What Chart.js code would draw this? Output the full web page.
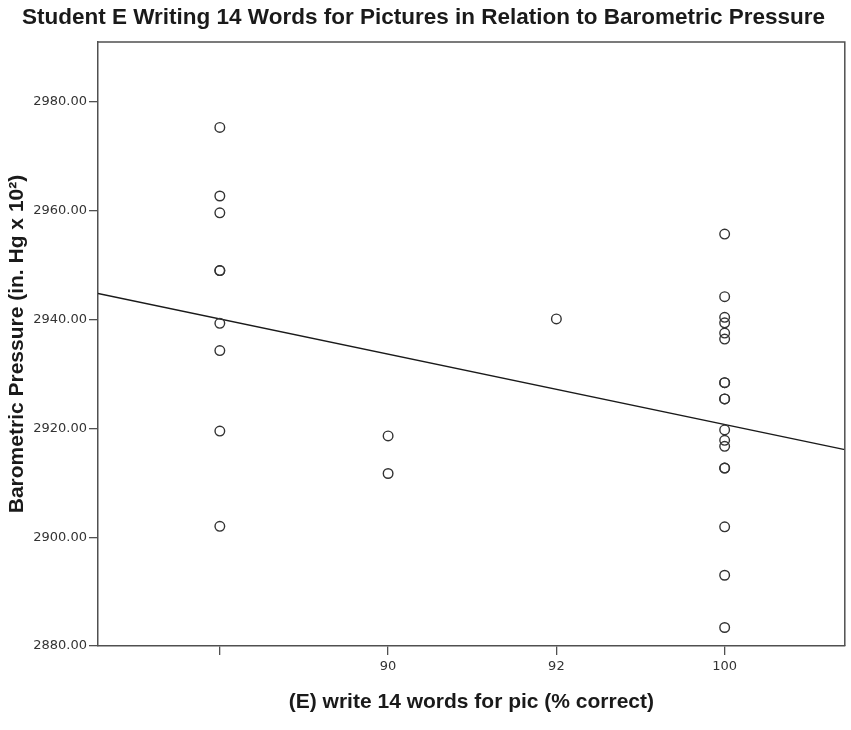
<!DOCTYPE html>
<html>
<head>
<meta charset="utf-8">
<script src="https://cdn.jsdelivr.net/npm/chart.js@4.4.1/dist/chart.umd.min.js"></script>
<style>
  html, body { margin: 0; padding: 0; background: #ffffff; }
  #wrap { width: 851px; height: 730px; }
</style>
</head>
<body>
<div id="wrap"><canvas id="chart" width="851" height="730"></canvas></div>
<script>
// Score categories along the x axis (first category carries no label)
const xTickLabels = ['', '90', '92', '100'];
const xPositions = [0, 1, 2, 3];

// Barometric pressure readings (in. Hg x 10^2) for each score category
const pressureBlank = [2975.3, 2962.7, 2959.6, 2949.0, 2949.0, 2939.3, 2934.3, 2919.5, 2902.0];
const pressure90 = [2918.6, 2911.7];
const pressure92 = [2940.1];
const pressure100 = [2955.7, 2944.2, 2940.4, 2939.4, 2937.5, 2936.4, 2928.4, 2928.4, 2925.4, 2925.4,
                     2919.7, 2917.8, 2916.7, 2912.7, 2912.7, 2901.9, 2893.0, 2883.4];

// Linear fit: value at category 0 and change per category step
const fitIntercept = 2940.1;
const fitSlope = -6.47;

// Axis extents
const xMin = -0.724, xMax = 3.714;
const yMin = 2880, yMax = 2991, yStep = 20;

const groups = [pressureBlank, pressure90, pressure92, pressure100];
const points = [];
groups.forEach((vals, i) => vals.forEach(v => points.push({ x: xPositions[i], y: v })));

const fitPoints = [xMin, xMax].map(x => ({ x: x, y: fitIntercept + fitSlope * x }));

const AXIS_COLOR = '#505050';
const TITLE_FONT = 'Liberation Sans, Arial, sans-serif';
const TICK_FONT = 'DejaVu Sans, sans-serif';

// Draws the top and right edges of the plot frame
const frame = {
  id: 'frame',
  afterDraw(chart) {
    const { ctx, chartArea: a } = chart;
    ctx.save();
    ctx.strokeStyle = AXIS_COLOR;
    ctx.lineWidth = 1.5;
    ctx.beginPath();
    ctx.moveTo(a.left, a.top);
    ctx.lineTo(a.right, a.top);
    ctx.lineTo(a.right, a.bottom);
    ctx.stroke();
    ctx.restore();
  }
};

new Chart(document.getElementById('chart'), {
  type: 'scatter',
  data: {
    datasets: [
      {
        label: 'Observations',
        data: points,
        pointStyle: 'circle',
        pointRadius: 4.8,
        pointHoverRadius: 4.8,
        borderWidth: 1.4,
        borderColor: '#333333',
        backgroundColor: 'rgba(0,0,0,0)',
        order: 1
      },
      {
        label: 'Fit',
        type: 'line',
        data: fitPoints,
        borderColor: '#1a1a1a',
        borderWidth: 1.3,
        pointRadius: 0,
        fill: false,
        order: 2
      }
    ]
  },
  options: {
    responsive: false,
    animation: false,
    layout: { padding: { left: 0, right: 4, top: 0, bottom: 0 } },
    plugins: {
      legend: { display: false },
      tooltip: { enabled: false },
      title: {
        display: true,
        text: 'Student E Writing 14 Words for Pictures in Relation to Barometric Pressure',
        color: '#1a1a1a',
        font: { family: TITLE_FONT, size: 22.5, weight: 'bold' },
        padding: { top: 4, bottom: 11 }
      }
    },
    scales: {
      x: {
        type: 'linear',
        min: xMin,
        max: xMax,
        afterBuildTicks(scale) {
          scale.ticks = xPositions.map(v => ({ value: v }));
        },
        afterFit(scale) { scale.height = 84; },
        ticks: {
          autoSkip: false,
          maxRotation: 0,
          padding: 4,
          color: '#333333',
          font: { family: TICK_FONT, size: 13 },
          callback: (v) => xTickLabels[xPositions.indexOf(v)] ?? ''
        },
        grid: { drawOnChartArea: false, drawTicks: true, tickLength: 9, color: AXIS_COLOR, lineWidth: 1.3 },
        border: { display: true, color: AXIS_COLOR, width: 1.5 },
        title: {
          display: true,
          text: '(E) write 14 words for pic (% correct)',
          color: '#1a1a1a',
          font: { family: TITLE_FONT, size: 21, weight: 'bold' },
          padding: { top: 0, bottom: 15.5 }
        }
      },
      y: {
        type: 'linear',
        min: yMin,
        max: yMax,
        afterFit(scale) { scale.width = 98; },
        ticks: {
          stepSize: yStep,
          includeBounds: false,
          padding: 2,
          color: '#333333',
          font: { family: TICK_FONT, size: 13 },
          callback: (v) => Number(v).toFixed(2)
        },
        grid: { drawOnChartArea: false, drawTicks: true, tickLength: 9, color: AXIS_COLOR, lineWidth: 1.3 },
        border: { display: true, color: AXIS_COLOR, width: 1.5 },
        title: {
          display: true,
          text: 'Barometric Pressure (in. Hg x 10²)',
          color: '#1a1a1a',
          font: { family: TITLE_FONT, size: 21, weight: 'bold' },
          padding: { top: 4.5, bottom: 0 }
        }
      }
    }
  },
  plugins: [frame]
});
</script>
</body>
</html>
